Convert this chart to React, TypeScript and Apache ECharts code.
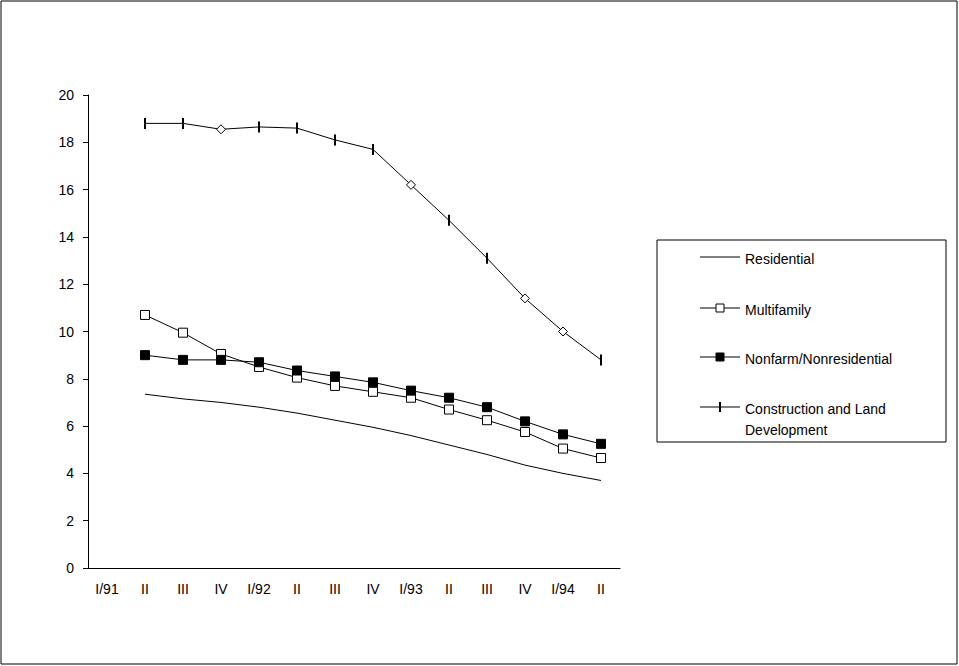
import * as echarts from 'echarts';
import React, { useEffect, useRef } from 'react';

const quarters = ['I/91', 'II', 'III', 'IV', 'I/92', 'II', 'III', 'IV', 'I/93', 'II', 'III', 'IV', 'I/94', 'II'];

// values start at II/91 (first category has no data)
const residential = [null, 7.35, 7.15, 7.0, 6.8, 6.55, 6.25, 5.95, 5.6, 5.2, 4.8, 4.35, 4.0, 3.7];
const multifamily = [null, 10.7, 9.95, 9.05, 8.5, 8.05, 7.7, 7.45, 7.2, 6.7, 6.25, 5.75, 5.05, 4.65];
const nonfarm = [null, 9.0, 8.8, 8.8, 8.7, 8.35, 8.1, 7.85, 7.5, 7.2, 6.8, 6.2, 5.65, 5.25];
const construction = [null, 18.8, 18.8, 18.55, 18.65, 18.6, 18.1, 17.7, 16.2, 14.7, 13.1, 11.4, 10.0, 8.8];
// quarters where the original draws a diamond instead of a tick mark
const diamondAt = [3, 8, 11, 12];

const seriesNames = ['Residential', 'Multifamily', 'Nonfarm/Nonresidential', 'Construction and Land\nDevelopment'];

const tickSymbol = 'path://M0,0 L2,0 L2,10 L0,10 Z';
const font = 'Liberation Sans, Arial, sans-serif';

// hand-drawn legend, like the boxed legend of the original
const legendRowsY = [257, 308, 357, 407];
const buildLegend = () => {
  const els: any[] = [
    { type: 'rect', shape: { x: 657, y: 240, width: 289, height: 202 }, style: { fill: 'none', stroke: '#000', lineWidth: 1 } },
  ];
  seriesNames.forEach((name, i) => {
    const y = legendRowsY[i];
    els.push({ type: 'line', shape: { x1: 700, y1: y, x2: 740, y2: y }, style: { stroke: '#000', lineWidth: 1 } });
    if (i === 1 || i === 2) {
      els.push({
        type: 'rect',
        shape: { x: 716, y: y - 4, width: 8, height: 8 },
        style: { fill: i === 1 ? '#fff' : '#000', stroke: '#000', lineWidth: 1 },
      });
    }
    if (i === 3) {
      els.push({ type: 'line', shape: { x1: 720, y1: y - 5, x2: 720, y2: y + 5 }, style: { stroke: '#000', lineWidth: 2 } });
    }
    els.push({
      type: 'text',
      x: 745,
      y: y - 9,
      style: { text: name, fill: '#000', font: `14px ${font}`, lineHeight: 21, textVerticalAlign: 'top' },
    });
  });
  return els;
};

const App = () => {
  const chartRef = useRef<HTMLDivElement>(null);

  useEffect(() => {
    if (!chartRef.current) return;
    const chart = echarts.init(chartRef.current, undefined, { renderer: 'svg' });

    const constructionData = construction.map((v, i) =>
      diamondAt.includes(i)
        ? { value: v, symbol: 'diamond', symbolSize: 9, itemStyle: { color: '#fff', borderColor: '#000', borderWidth: 1 } }
        : v,
    );

    chart.setOption({
      animation: false,
      backgroundColor: '#fff',
      textStyle: { fontFamily: font },
      grid: { left: 88, right: 339, top: 95, bottom: 98 },
      graphic: [
        { type: 'rect', shape: { x: 1, y: 1, width: 956, height: 663 }, style: { fill: 'none', stroke: '#000', lineWidth: 1 } },
        ...buildLegend(),
      ],
      xAxis: {
        type: 'category',
        data: quarters,
        boundaryGap: true,
        axisLine: { lineStyle: { color: '#000000' } },
        axisTick: { length: 5, lineStyle: { color: '#000000' } },
        axisLabel: { color: '#000000', fontSize: 14, margin: 14, interval: 0 },
      },
      yAxis: {
        type: 'value',
        min: 0,
        max: 20,
        interval: 2,
        axisLine: { show: true, lineStyle: { color: '#000000' } },
        axisTick: { show: true, length: 5, lineStyle: { color: '#000000' } },
        axisLabel: { color: '#000000', fontSize: 14, margin: 14 },
        splitLine: { show: false },
      },
      series: [
        {
          name: seriesNames[0],
          type: 'line',
          data: residential,
          symbol: 'none',
          lineStyle: { color: '#000', width: 1 },
          itemStyle: { color: '#000' },
        },
        {
          name: seriesNames[1],
          type: 'line',
          data: multifamily,
          symbol: 'rect',
          symbolSize: 9,
          lineStyle: { color: '#000', width: 1 },
          itemStyle: { color: '#fff', borderColor: '#000', borderWidth: 1 },
        },
        {
          name: seriesNames[2],
          type: 'line',
          data: nonfarm,
          symbol: 'rect',
          symbolSize: 9,
          lineStyle: { color: '#000', width: 1 },
          itemStyle: { color: '#000', borderColor: '#000', borderWidth: 1 },
        },
        {
          name: seriesNames[3],
          type: 'line',
          data: constructionData,
          symbol: tickSymbol,
          symbolSize: [2, 11],
          lineStyle: { color: '#000', width: 1 },
          itemStyle: { color: '#000' },
        },
      ],
    });

    return () => chart.dispose();
  }, []);

  return (
    <div
      ref={chartRef}
      style={{ position: 'absolute', left: 0, top: 0, width: 959, height: 666 }}
    />
  );
};

export default App;
